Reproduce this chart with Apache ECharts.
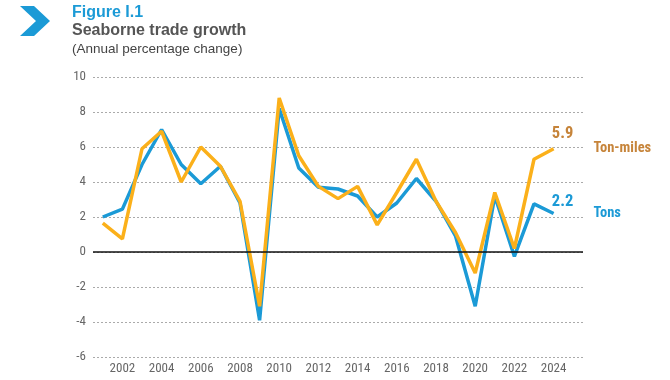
<!DOCTYPE html>
<html>
<head>
<meta charset="utf-8">
<script src="https://cdn.jsdelivr.net/npm/echarts@6/dist/echarts.min.js"></script>
<style>html,body{margin:0;padding:0;background:#fff}#c{width:670px;height:380px}</style>
</head>
<body>
<div id="c"></div>
<script>
var years = ['2001','2002','2003','2004','2005','2006','2007','2008','2009','2010','2011','2012','2013','2014','2015','2016','2017','2018','2019','2020','2021','2022','2023','2024','2025'];
var tons =     [2.0, 2.45, 5.0, 7.0, 5.0, 3.9, 4.9, 2.8, -3.9, 8.2, 4.8, 3.7, 3.6, 3.2, 2.0, 2.8, 4.2, 2.9, 0.9, -3.1, 3.2, -0.25, 2.75, 2.2];
var tonMiles = [1.65, 0.75, 5.9, 6.9, 4.0, 6.0, 4.9, 2.9, -3.1, 8.8, 5.5, 3.75, 3.05, 3.75, 1.55, 3.4, 5.3, 2.9, 1.1, -1.2, 3.4, 0.2, 5.3, 5.9];
var yTicks = {min: -6, max: 10, step: 2};

var FONT = '"Liberation Sans Narrow", "Arial Narrow", "Roboto Condensed", "Liberation Sans", sans-serif';
var BLUE = '#1b9ad6', ORANGE = '#fbb01a';
var BLUE_T = '#1c9ad6', ORANGE_T = '#c6843a';

function lastPoint(arr, color, dy) {
  var i = arr.length - 1;
  return {
    silent: true, symbol: 'circle', symbolSize: 1, itemStyle: {color: 'rgba(0,0,0,0)'},
    label: {show: true, position: 'top', distance: dy, offset: [9, 0], color: color, fontSize: 16.5, fontFamily: FONT, fontWeight: 'bold', formatter: String(arr[i])},
    data: [{coord: [years[i], arr[i]], value: arr[i]}]
  };
}

var chart = echarts.init(document.getElementById('c'), null, {renderer: 'canvas'});
chart.setOption({
  animation: false,
  backgroundColor: '#fff',
  grid: {left: 93, right: 87, top: 77, bottom: 23, containLabel: false},
  xAxis: {
    type: 'category', data: years, boundaryGap: true,
    axisLine: {show: false}, axisTick: {show: false},
    axisLabel: {
      interval: function (i) { return i % 2 === 1; },
      color: '#666', fontSize: 13, fontFamily: FONT, margin: 5
    },
    splitLine: {show: false}
  },
  yAxis: {
    type: 'value', min: yTicks.min, max: yTicks.max, interval: yTicks.step,
    axisLine: {show: false}, axisTick: {show: false},
    axisLabel: {color: '#666', fontSize: 13, fontFamily: FONT, margin: 7},
    splitLine: {lineStyle: {color: '#aaa', type: [2, 2], width: 1}}
  },
  series: [
    {
      name: 'Tons', type: 'line', data: tons, symbol: 'none',
      lineStyle: {color: BLUE, width: 3.5}, itemStyle: {color: BLUE}, z: 3,
      endLabel: {show: true, formatter: '{a}', distance: 40, color: BLUE_T, fontSize: 14.5, fontFamily: FONT, fontWeight: 'bold'},
      markPoint: lastPoint(tons, BLUE_T, 3),
      markLine: {
        silent: true, symbol: 'none', label: {show: false},
        lineStyle: {color: '#111', type: 'solid', width: 1.5},
        data: [{yAxis: 0}]
      }
    },
    {
      name: 'Ton-miles', type: 'line', data: tonMiles, symbol: 'none',
      lineStyle: {color: ORANGE, width: 3.5}, itemStyle: {color: ORANGE}, z: 4,
      endLabel: {show: true, formatter: '{a}', distance: 40, color: ORANGE_T, fontSize: 14.5, fontFamily: FONT, fontWeight: 'bold'},
      markPoint: lastPoint(tonMiles, ORANGE_T, 6)
    }
  ],
  graphic: [
    {type: 'polygon', shape: {points: [[20, 6], [34, 6], [50, 21], [34, 36], [20, 36], [36, 21]]}, style: {fill: '#1b9ad6'}},
    {type: 'text', left: 72, top: 5, style: {text: 'Figure I.1', fill: '#1b9ad6', font: 'bold 16px "Liberation Sans", Arial, sans-serif'}},
    {type: 'text', left: 72, top: 23, style: {text: 'Seaborne trade growth', fill: '#555', font: 'bold 16px "Liberation Sans", Arial, sans-serif'}},
    {type: 'text', left: 72, top: 42, style: {text: '(Annual percentage change)', fill: '#444', font: '13.5px "Liberation Sans", Arial, sans-serif'}}
  ]
});
</script>
</body>
</html>
